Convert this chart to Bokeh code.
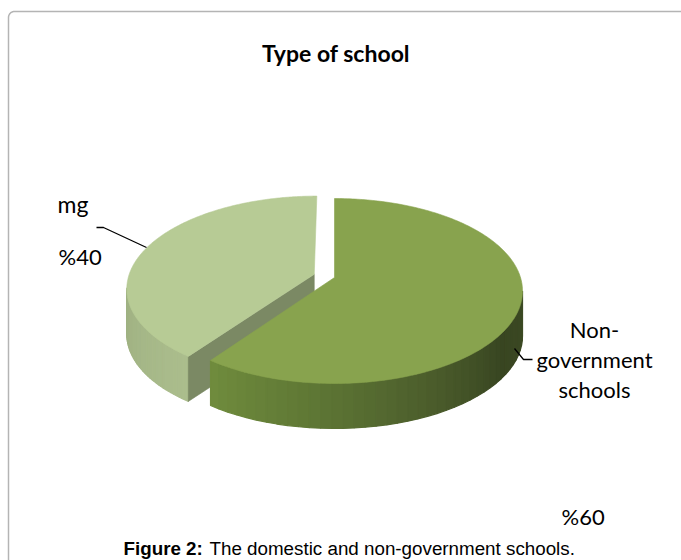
import numpy as np
from bokeh.plotting import figure
from bokeh.models import Range1d
from bokeh.core.properties import value
from bokeh.embed import file_html
from bokeh.resources import INLINE

# ---------------- data ----------------
title_text = "Type of school"
categories = ["Non-\ngovernment\nschools", "mg"]
values = [60, 40]
pct_labels = ["%60", "%40"]
explode = [0.0, 0.115]
top_colors = ["#88a34e", "#b7cb95"]
caption_bold = "Figure 2:"
caption_rest = "The domestic and non-government schools."

# ---------------- layout ----------------
W, H = 681, 560
CX, CY, RX, RY, K, DEPTH = 334.0, 277.0, 186.0, 90.5, 0.146, 45.0

p = figure(width=W, height=H, x_range=Range1d(0, W), y_range=Range1d(H, 0),
           output_backend="svg", toolbar_location=None, min_border=0,
           x_axis_location=None, y_axis_location=None)
p.grid.visible = False
p.outline_line_color = None
p.background_fill_color = "white"
p.border_fill_color = "white"


def proj(X, Z, h=0.0):
    s = 1.0 / (1.0 + K * Z)
    return CX + RX * X * s, CY - RY * Z * s + h


def hex2rgb(c):
    c = c.lstrip("#")
    return np.array([int(c[i:i + 2], 16) for i in (0, 2, 4)], dtype=float)


def interp_color(stops, t):
    ts = [s[0] for s in stops]
    cs = [hex2rgb(s[1]) for s in stops]
    c = cs[-1]
    if t <= ts[0]:
        c = cs[0]
    else:
        for i in range(len(ts) - 1):
            if ts[i] <= t <= ts[i + 1]:
                f = (t - ts[i]) / (ts[i + 1] - ts[i])
                c = cs[i] + f * (cs[i + 1] - cs[i])
                break
    return "#%02x%02x%02x" % tuple(int(round(v)) for v in c)


side_stops = [
    [(0.0, "#708c3d"), (0.25, "#5f7835"), (0.55, "#4a5b2b"), (0.78, "#384521"), (1.0, "#3c4a24")],
    [(0.0, "#9eb081"), (1.0, "#abbd8d")],
]
cut_colors = ["#5f7a33", "#7b8964"]

total = float(sum(values))
sil = np.degrees(np.arcsin(K))
front_lo, front_hi = -180.0 + sil, -sil

slices = []
cum = 0.0
for v in values:
    a0 = 90.0 - 360.0 * cum / total
    cum += v
    a1 = 90.0 - 360.0 * cum / total
    slices.append((a0, a1))

order = sorted(range(len(values)), key=lambda i: -explode[i])

for i in order:
    a0, a1 = slices[i]
    mid = np.radians((a0 + a1) / 2.0)
    ox, oz = explode[i] * np.cos(mid), explode[i] * np.sin(mid)

    lo = max(a1, front_lo)
    hi = min(a0, front_hi)
    if hi > lo:
        n = 40
        ts = np.linspace(lo, hi, n + 1)
        xs_list, ys_list, cols = [], [], []
        for j in range(n):
            t0, t1 = np.radians(ts[j]), np.radians(ts[j + 1])
            x0t, y0t = proj(ox + np.cos(t0), oz + np.sin(t0))
            x1t, y1t = proj(ox + np.cos(t1), oz + np.sin(t1))
            x0b, y0b = proj(ox + np.cos(t0), oz + np.sin(t0), DEPTH)
            x1b, y1b = proj(ox + np.cos(t1), oz + np.sin(t1), DEPTH)
            xs_list.append([x0t, x1t, x1b, x0b])
            ys_list.append([y0t, y1t, y1b, y0b])
            f = (j + 0.5) / n
            cols.append(interp_color(side_stops[i], f))
        p.patches(xs_list, ys_list, fill_color=cols, line_color=cols, line_width=1.2)

    for a, nrm in ((a0, a0 + 90.0), (a1, a1 - 90.0)):
        if np.sin(np.radians(nrm)) < -0.05:
            ar = np.radians(a)
            cxt, cyt = proj(ox, oz)
            rxt, ryt = proj(ox + np.cos(ar), oz + np.sin(ar))
            cxb, cyb = proj(ox, oz, DEPTH)
            rxb, ryb = proj(ox + np.cos(ar), oz + np.sin(ar), DEPTH)
            p.patch([cxt, rxt, rxb, cxb], [cyt, ryt, ryb, cyb],
                    fill_color=cut_colors[i], line_color=cut_colors[i], line_width=0.6)

    ts = np.radians(np.linspace(a0, a1, 240))
    px, py = proj(ox + np.cos(ts), oz + np.sin(ts))
    cx0, cy0 = proj(ox, oz)
    p.patch(np.concatenate([[cx0], px]), np.concatenate([[cy0], py]),
            fill_color=top_colors[i], line_color=top_colors[i], line_width=0.6)

# ---------------- frame ----------------
r = 6.0
ang = np.linspace(np.pi, 1.5 * np.pi, 12)
fx = np.concatenate([[8.0], 8.0 + r + r * np.cos(ang), [W + 5.0]])
fy = np.concatenate([[H + 5.0], 11.0 + r + r * np.sin(ang), [11.0]])
p.line(fx, fy, line_color="#b4b4b4", line_width=1.5)

# ---------------- texts ----------------
p.text(x=[W / 2.0 - 5], y=[52], text=[title_text], text_font=value("Lato"),
       text_font_style="bold", text_font_size="23px", text_align="center",
       text_baseline="alphabetic", text_color="black")

p.line([96, 103, 146], [227, 227, 247], line_color="black", line_width=1.3)
p.line([514, 523, 532], [348, 359, 359], line_color="black", line_width=1.3)

lines0 = categories[0].split("\n")
p.text(x=[594] * len(lines0), y=[329 + 30 * k for k in range(len(lines0))], text=lines0,
       text_font=value("Lato"), text_font_size="22px", text_align="center",
       text_baseline="alphabetic", text_color="black")
p.text(x=[57], y=[203], text=[categories[1]], text_font=value("Lato"),
       text_font_size="23px", text_align="left", text_baseline="alphabetic", text_color="black")

p.text(x=[561, 58], y=[516, 256], text=pct_labels, text_font=value("Lato"),
       text_font_size="22px", text_align="left",
       text_baseline="alphabetic", text_color="black")

p.text(x=[123], y=[548], text=[caption_bold], text_font=value("Liberation Sans"),
       text_font_style="bold", text_font_size="18.8px", text_align="left",
       text_baseline="alphabetic", text_color="black")
p.text(x=[209], y=[548], text=[caption_rest], text_font=value("Liberation Sans"),
       text_font_size="18.8px", text_align="left",
       text_baseline="alphabetic", text_color="black")

open("out.html", "w").write(file_html(p, INLINE))
